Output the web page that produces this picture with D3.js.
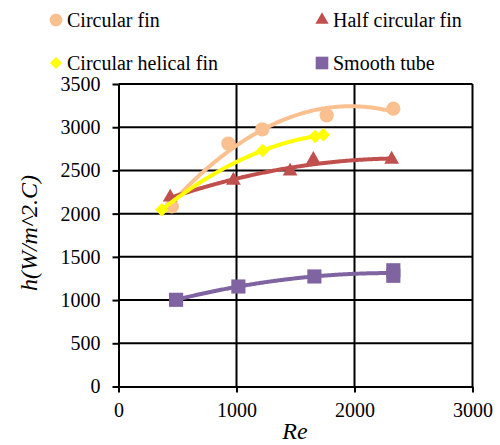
<!DOCTYPE html>
<html>
<head>
<meta charset="utf-8">
<script src="https://cdn.jsdelivr.net/npm/d3@7"></script>
</head>
<body style="margin:0">
<svg id="vis" width="500" height="445" style="font-family: 'Times New Roman'"></svg>
<script>
// data
const reCircular = [452, 931, 1219, 1764, 2329];
const hCircular = [2083, 2810, 2975, 3137, 3214];

const reHalf = [438, 974, 1454, 1651, 2315];
const hHalf = [2190, 2385, 2490, 2625, 2628];

const reHelical = [367, 1223, 1666, 1736];
const hHelical = [2045, 2731, 2893, 2913];

const reSmooth = [488, 1016, 1660, 2329, 2329];
const hSmooth = [1003, 1157, 1273, 1345, 1281];

const xTicks = [0, 1000, 2000, 3000];
const yTicks = [0, 500, 1000, 1500, 2000, 2500, 3000, 3500];

const series = [
    {name: "Circular fin", re: reCircular, h: hCircular, color: "#FAC090", symbol: "circle"},
    {name: "Half circular fin", re: reHalf, h: hHalf, color: "#C0504D", symbol: "triangle"},
    {name: "Circular helical fin", re: reHelical, h: hHelical, color: "#FFFF00", symbol: "diamond"},
    {name: "Smooth tube", re: reSmooth, h: hSmooth, color: "#8064A2", symbol: "square"},
];

const svg = d3.select("#vis");
const xscale = d3.scaleLinear().domain([0, 3000]).range([118.5, 472.5]);
const yscale = d3.scaleLinear().domain([0, 3500]).range([386.5, 84]);

// marker shapes, size = area
function markerPath(kind, big) {
    const k = big ? 1 : 0.8;
    if (kind === "circle") return d3.symbol(d3.symbolCircle, 160 * k)();
    if (kind === "triangle") return d3.symbol(d3.symbolTriangle, 95 * k)();
    if (kind === "square") return d3.symbol(d3.symbolSquare, 200 * k)();
    return d3.symbol(d3.symbolSquare, 90 * k)(); // rotated later -> diamond
}

// least squares 2nd order polynomial (like a spreadsheet trendline)
function quadFit(xs, ys) {
    const n = xs.length;
    let s = [0, 0, 0, 0, 0], t = [0, 0, 0];
    for (let i = 0; i < n; i++) {
        const x = xs[i] / 1000;
        for (let p = 0; p < 5; p++) s[p] += Math.pow(x, p);
        for (let p = 0; p < 3; p++) t[p] += ys[i] * Math.pow(x, p);
    }
    const m = [[s[0], s[1], s[2], t[0]], [s[1], s[2], s[3], t[1]], [s[2], s[3], s[4], t[2]]];
    for (let c = 0; c < 3; c++) {
        for (let r = c + 1; r < 3; r++) {
            const f = m[r][c] / m[c][c];
            for (let k = c; k < 4; k++) m[r][k] -= f * m[c][k];
        }
    }
    const b = [0, 0, 0];
    for (let r = 2; r >= 0; r--) {
        let v = m[r][3];
        for (let k = r + 1; k < 3; k++) v -= m[r][k] * b[k];
        b[r] = v / m[r][r];
    }
    return x => b[0] + b[1] * (x / 1000) + b[2] * Math.pow(x / 1000, 2);
}

function main() {
    drawGrid();
    drawAxes();
    series.forEach(drawSeries);
    drawLegend();
}

function drawGrid() {
    const g = svg.append("g").attr("class", "grid");
    g.selectAll(".hgrid").data(yTicks.slice(1)).join("line")
        .attr("class", "hgrid")
        .attr("x1", xscale(0)).attr("x2", xscale(3000))
        .attr("y1", d => yscale(d)).attr("y2", d => yscale(d))
        .attr("stroke", "#000").attr("stroke-width", 2);
    g.selectAll(".vgrid").data(xTicks.slice(1)).join("line")
        .attr("class", "vgrid")
        .attr("y1", yscale(0)).attr("y2", yscale(3500))
        .attr("x1", d => xscale(d)).attr("x2", d => xscale(d))
        .attr("stroke", "#000").attr("stroke-width", 2);
}

function drawAxes() {
    const fmt = d3.format("d");
    const xAxis = svg.append("g")
        .attr("transform", `translate(0,${yscale(0)})`)
        .call(d3.axisBottom(xscale).tickValues(xTicks).tickFormat(fmt).tickSize(6).tickSizeOuter(0).tickPadding(10));
    const yAxis = svg.append("g")
        .attr("transform", `translate(${xscale(0)},0)`)
        .call(d3.axisLeft(yscale).tickValues(yTicks).tickFormat(fmt).tickSize(6).tickSizeOuter(0).tickPadding(12));
    [xAxis, yAxis].forEach(a => {
        a.attr("font-family", null).attr("font-size", null);
        a.select(".domain").attr("stroke", "#000").attr("stroke-width", 2);
        a.selectAll(".tick line").attr("stroke", "#000").attr("stroke-width", 2);
        a.selectAll(".tick text").attr("fill", "#000").style("font-size", "20px");
    });

    svg.append("text")
        .attr("x", 295).attr("y", 439)
        .attr("text-anchor", "middle")
        .style("font-size", "24px").style("font-style", "italic")
        .text("Re");
    svg.append("text")
        .attr("transform", "translate(37,233) rotate(-90)")
        .attr("text-anchor", "middle")
        .style("font-size", "24px").style("font-style", "italic")
        .text("h(W/m^2.C)");
}

function drawSeries(s) {
    const fit = quadFit(s.re, s.h);
    const lo = d3.min(s.re), hi = d3.max(s.re);
    const xs = d3.range(lo, hi, 10).concat([hi]);
    const line = d3.line().x(d => xscale(d)).y(d => yscale(fit(d)));
    const pts = s.re.map((r, i) => ({x: r, y: s.h[i]}));

    const g = svg.append("g").attr("class", "series");
    g.selectAll(".pt").data(pts).join("path")
        .attr("class", "pt")
        .attr("d", markerPath(s.symbol, true))
        .attr("transform", d => `translate(${xscale(d.x)},${yscale(d.y)})` + (s.symbol === "diamond" ? " rotate(45)" : ""))
        .attr("fill", s.color);
    g.append("path")
        .datum(xs)
        .attr("d", line)
        .attr("fill", "none")
        .attr("stroke", s.color)
        .attr("stroke-width", 4);
}

function drawLegend() {
    const pos = [[56, 20], [322, 20], [56, 63], [322, 63]];
    series.forEach((s, i) => {
        const [x, y] = pos[i];
        svg.append("path")
            .attr("d", markerPath(s.symbol, false))
            .attr("transform", `translate(${x},${y})` + (s.symbol === "diamond" ? " rotate(45)" : ""))
            .attr("fill", s.color);
        svg.append("text")
            .attr("x", x + 11).attr("y", y + 7)
            .style("font-size", "20px")
            .text(s.name);
    });
}

main();
</script>
</body>
</html>
